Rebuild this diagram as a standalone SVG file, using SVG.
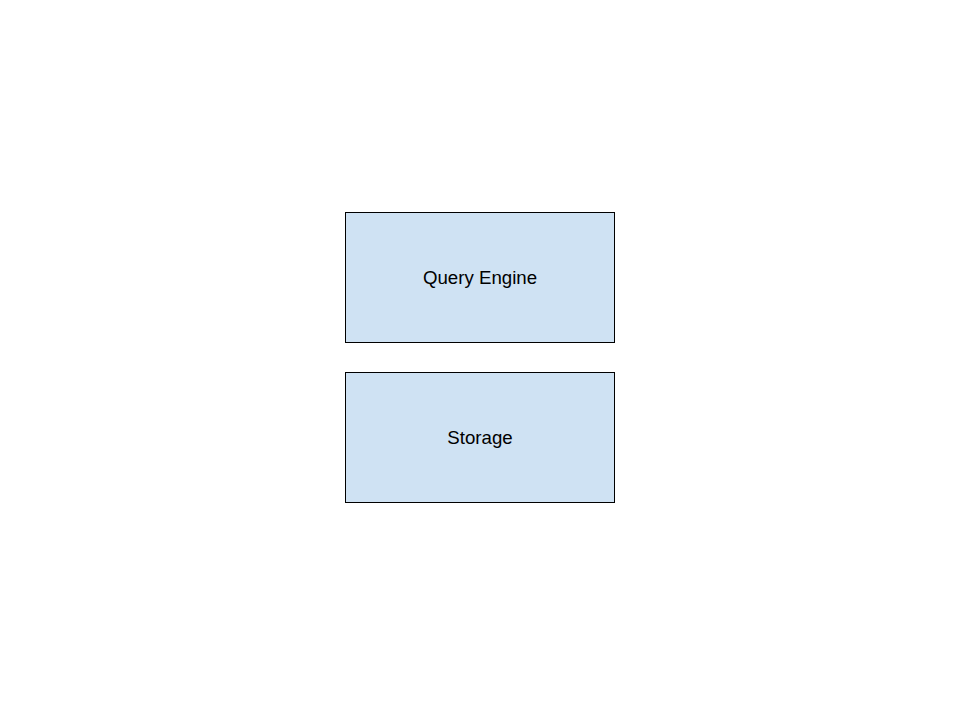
<svg xmlns="http://www.w3.org/2000/svg" width="960" height="720" viewBox="0 0 960 720">
<style>
.box{fill:#cfe2f3;stroke:#000;stroke-width:1}
.lbl{font-family:"Liberation Sans",Arial,sans-serif;font-size:18.67px;fill:#000;text-anchor:middle}
</style>
<rect width="960" height="720" fill="#fff"/>
<g id="connectors"></g>
<g id="query-engine">
<rect class="box" x="345.5" y="212.5" width="269" height="130"/>
<text class="lbl" x="480" y="284">Query Engine</text>
</g>
<g id="storage">
<rect class="box" x="345.5" y="372.5" width="269" height="130"/>
<text class="lbl" x="480" y="444">Storage</text>
</g>
</svg>
